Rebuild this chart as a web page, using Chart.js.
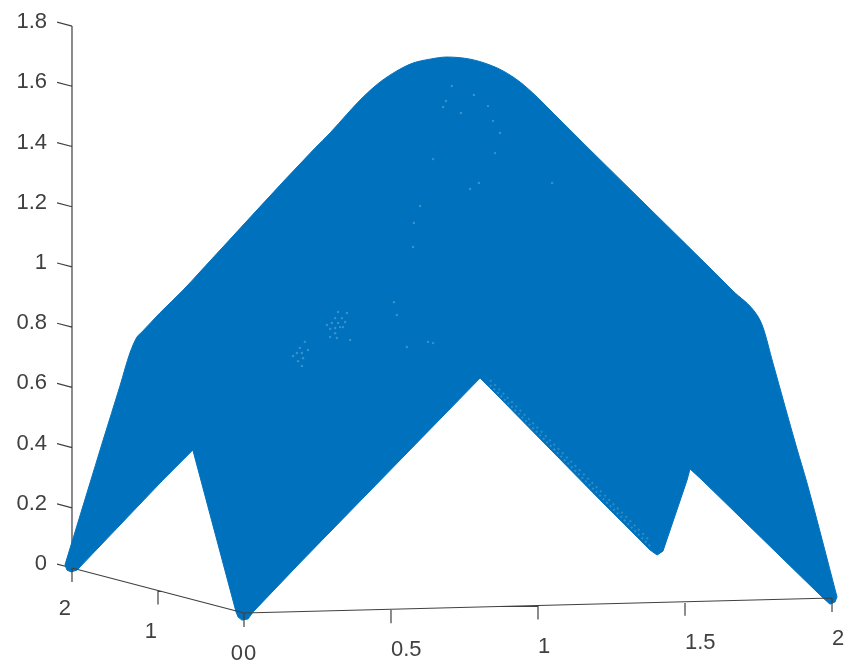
<!DOCTYPE html>
<html>
<head>
<meta charset="utf-8">
<style>
  html, body { margin: 0; padding: 0; background: #fff; }
  canvas { display: block; }
</style>
<script src="https://cdn.jsdelivr.net/npm/chart.js@4/dist/chart.umd.min.js"></script>
</head>
<body>
<canvas id="chart" width="850" height="667"></canvas>
<script>
// outline of the point cloud as seen on screen (horizontal position in x units, height in z units)
const upperU = [-0.609, -0.531, -0.480, -0.422, -0.388, -0.364, -0.347, -0.286, -0.207, -0.150, 0.241, 0.293, 0.350, 0.405, 0.463, 0.520, 0.575, 0.633, 0.690, 0.769, 0.827, 0.881, 0.939, 0.997, 1.051, 1.109, 1.160, 1.602, 1.660, 1.745, 1.765, 1.799, 1.881, 1.915, 2.017];
const upperZ = [0.010, 0.259, 0.422, 0.604, 0.714, 0.767, 0.784, 0.847, 0.923, 0.983, 1.394, 1.445, 1.507, 1.564, 1.614, 1.651, 1.677, 1.690, 1.697, 1.690, 1.674, 1.651, 1.614, 1.564, 1.511, 1.455, 1.405, 0.980, 0.923, 0.840, 0.800, 0.681, 0.395, 0.282, -0.096];
const lowerU = [-0.609, -0.602, -0.588, -0.568, -0.276, -0.174, -0.027, -0.020, -0.007, 0.014, 0.031, 0.190, 0.803, 0.837, 1.211, 1.381, 1.405, 1.425, 1.507, 1.517, 1.558, 1.966, 1.993, 2.010, 2.017];
const lowerZ = [0.010, -0.007, -0.013, -0.007, 0.292, 0.392, -0.146, -0.163, -0.173, -0.169, -0.146, 0.017, 0.631, 0.598, 0.226, 0.060, 0.043, 0.056, 0.292, 0.329, 0.292, -0.096, -0.120, -0.113, -0.096];

// small gaps between the points inside the cloud
const gapU = [0.320, 0.350, 0.310, 0.333, 0.299, 0.320, 0.344, 0.293, 0.310, 0.327, 0.337, 0.282, 0.310, 0.293, 0.316, 0.361, 0.190, 0.207, 0.180, 0.197, 0.218, 0.201, 0.184, 0.197, 0.167, 0.510, 0.520, 0.626, 0.643, 0.554, 0.643, 0.799, 0.854, 0.578, 0.599, 0.769, 0.871, 1.048, 0.575, 0.687, 0.738, 0.677, 0.847, 0.707, 0.782, 0.830];
const gapZ = [0.850, 0.847, 0.830, 0.830, 0.814, 0.814, 0.817, 0.794, 0.797, 0.800, 0.800, 0.807, 0.780, 0.767, 0.764, 0.757, 0.731, 0.751, 0.714, 0.714, 0.724, 0.697, 0.687, 0.671, 0.704, 0.883, 0.840, 0.751, 0.747, 0.734, 1.358, 1.279, 1.378, 1.146, 1.202, 1.259, 1.445, 1.279, 1.066, 1.551, 1.511, 1.531, 1.485, 1.601, 1.571, 1.534];

// thinner rows of points just inside the lower right edge
const thinOuterU = [0.837, 1.388];
const thinOuterZ = [0.608, 0.066];
const thinInnerU = [0.837, 1.381];
const thinInnerZ = [0.624, 0.090];

const xTicks = [0, 0.5, 1, 1.5, 2];
const yTicks = [0, 1, 2];
const zTicks = [0, 0.2, 0.4, 0.6, 0.8, 1, 1.2, 1.4, 1.6, 1.8];

const BLUE = '#0072BD';
const AXIS = '#404040';
const THIN = 'rgba(255,255,255,0.18)';
const FONT = '22px "Liberation Sans", Arial, sans-serif';

// fixed 3d view: x runs nearly flat, y runs back to the left
function project(x, y, z) {
    return {
        x: x - 0.2925 * y,
        y: z - 0.1495 + 0.0249 * x + 0.0747 * y
    };
}

function toPoints(us, zs) {
    return us.map((u, i) => ({ x: u, y: zs[i] }));
}

// joins several short lines into one dataset, NaN breaks the line
function joinLines(lines) {
    const out = [];
    lines.forEach(line => {
        line.forEach(p => out.push(p));
        out.push({ x: NaN, y: NaN });
    });
    return out;
}

const zAxisLines = joinLines([
    [project(0, 2, 0), project(0, 2, 1.8)],
    ...zTicks.map(z => [project(0, 2, z), project(0, 2.174, z)])
]);
const floorLines = joinLines([
    [project(0, 0, 0), project(2, 0, 0)],
    [project(0, 0, 0), project(0, 2, 0)],
    ...xTicks.map(x => [project(x, 0, 0), project(x, 0, -0.0465)]),
    ...yTicks.map(y => [project(0, y, 0), project(0, y, -0.0465)])
]);

const floorLabels = {
    id: 'floorLabels',
    afterDraw(chart) {
        const sx = chart.scales.x;
        const sy = chart.scales.y;
        const ctx = chart.ctx;
        ctx.save();
        ctx.font = FONT;
        ctx.fillStyle = AXIS;
        ctx.textBaseline = 'middle';
        ctx.textAlign = 'left';
        xTicks.forEach(x => {
            const p = project(x, 0, 0);
            ctx.fillText(String(x), sx.getPixelForValue(p.x), sy.getPixelForValue(p.y) + 41);
        });
        ctx.textAlign = 'right';
        yTicks.forEach(y => {
            const p = project(0, y, 0);
            ctx.fillText(String(y), sx.getPixelForValue(p.x) - 1, sy.getPixelForValue(p.y) + 41);
        });
        ctx.restore();
    }
};

// the scales ask for room for their first and last label, the plot has to fill the whole canvas
function noScalePadding(scale) {
    scale.paddingTop = 0;
    scale.paddingBottom = 0;
    scale.paddingLeft = 0;
    scale.paddingRight = 0;
}

new Chart(document.getElementById('chart'), {
    type: 'scatter',
    data: {
        datasets: [
            {
                label: 'floor axes',
                data: floorLines,
                showLine: true,
                spanGaps: false,
                borderColor: AXIS,
                borderWidth: 1.2,
                pointRadius: 0,
                order: 0
            },
            {
                label: 'gaps',
                data: toPoints(gapU, gapZ),
                showLine: false,
                pointRadius: 1.2,
                pointBorderWidth: 0,
                pointBackgroundColor: 'rgba(130,185,225,0.45)',
                order: 1
            },
            {
                label: 'thin outer',
                data: toPoints(thinOuterU, thinOuterZ),
                showLine: true,
                borderColor: THIN,
                borderWidth: 2,
                borderDash: [2, 3],
                pointRadius: 0,
                order: 1
            },
            {
                label: 'thin inner',
                data: toPoints(thinInnerU, thinInnerZ),
                showLine: true,
                borderColor: THIN,
                borderWidth: 2,
                borderDash: [2, 4],
                pointRadius: 0,
                order: 1
            },
            {
                label: 'top edge',
                data: toPoints(upperU, upperZ),
                showLine: true,
                cubicInterpolationMode: 'monotone',
                fill: { target: 5 },
                backgroundColor: BLUE,
                borderColor: BLUE,
                borderWidth: 1,
                pointRadius: 0,
                order: 2
            },
            {
                label: 'bottom edge',
                data: toPoints(lowerU, lowerZ),
                showLine: true,
                borderColor: BLUE,
                borderWidth: 1,
                pointRadius: 0,
                order: 3
            },
            {
                label: 'z axis',
                data: zAxisLines,
                showLine: true,
                spanGaps: false,
                borderColor: AXIS,
                borderWidth: 1.2,
                pointRadius: 0,
                order: 4
            }
        ]
    },
    options: {
        responsive: false,
        animation: false,
        layout: { padding: 0, autoPadding: false },
        plugins: {
            legend: { display: false },
            tooltip: { enabled: false },
            title: { display: false }
        },
        scales: {
            x: {
                type: 'linear',
                display: false,
                min: -0.636,
                max: 2.0612,
                afterFit: noScalePadding
            },
            y: {
                type: 'linear',
                position: 'left',
                min: -0.3288,
                max: 1.8864,
                afterFit: scale => {
                    scale.width = 57;
                    noScalePadding(scale);
                },
                afterBuildTicks: scale => { scale.ticks = zTicks.map(v => ({ value: v })); },
                grid: { display: false, drawTicks: false },
                border: { display: false },
                ticks: {
                    autoSkip: false,
                    padding: 10,
                    labelOffset: -4,
                    color: AXIS,
                    font: { family: '"Liberation Sans", Arial, sans-serif', size: 22 },
                    callback: value => String(value)
                }
            }
        }
    },
    plugins: [floorLabels]
});
</script>
</body>
</html>
